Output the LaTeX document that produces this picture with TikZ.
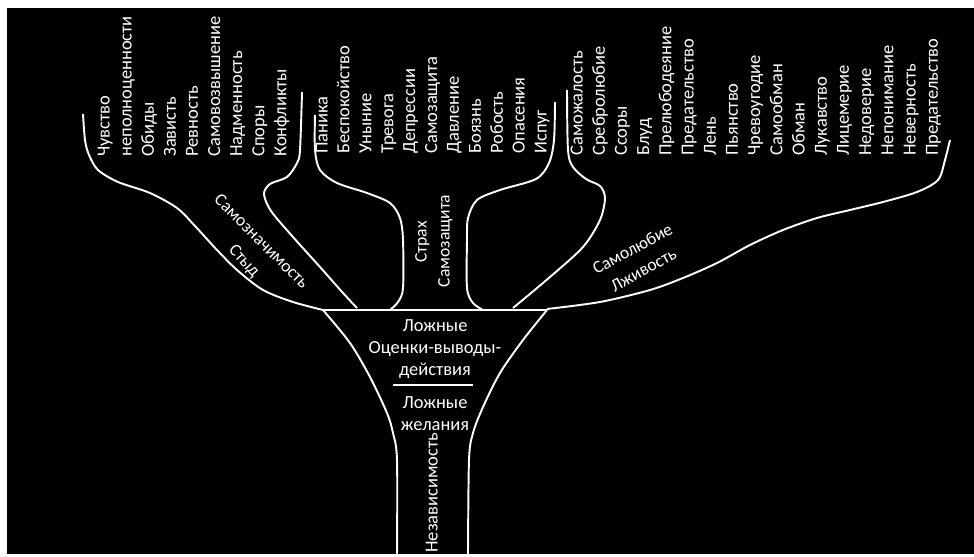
\documentclass[tikz,border=0pt]{standalone}
\usepackage{fontspec}
\setmainfont{Carlito}
\usetikzlibrary{positioning}
\tikzset{branch/.style={draw=white, line width=1.1pt},
        word/.style={white, rotate=90, anchor=west, inner sep=0pt,
        text height=0.66em, text depth=0.14em,
        font=\fontsize{10.5}{12.6}\selectfont},
        tag/.style={white, inner sep=0pt, text height=0.66em, text depth=0.14em,
        font=\fontsize{10}{12}\selectfont},
        core/.style={white, align=center, inner sep=0pt,
        font=\fontsize{10.5}{12.6}\selectfont}}

\begin{document}
\begin{tikzpicture}[x=0.02cm,y=-0.02cm]
    \fill[white] (0,0) rectangle (974,554);
    \fill[black] (7,8) rectangle (974,554);

    % words on the branches
    \foreach \w [count=\i] in {Чувство,неполноценности,Обиды,Зависть,Ревность,
        Самовозвышение,Надменность,Споры,Конфликты}
        \node[word] (l\i) at ({105+22.1*(\i-1)},157) {\w};
    \foreach \w [count=\i] in {Паника,Беспокойство,Уныние,Тревога,Депрессии,
        Самозащита,Давление,Боязнь,Робость,Опасения,Испуг}
        \node[word] (m\i) at ({323+21.9*(\i-1)},154) {\w};
    \foreach \w [count=\i] in {Саможалость,Сребролюбие,Ссоры,Блуд,Прелюбодеяние,
        Предательство,Лень,Пьянство,Чревоугодие,Самообман,Обман,Лукавство,
        Лицемерие,Недоверие,Непонимание,Неверность,Предательство}
        \node[word] (r\i) at ({578+22.2*(\i-1)},156) {\w};

    % left branch
    \draw[branch] plot [smooth] coordinates {(83,114) (85,140) (89,155) (98,170)
        (118,182) (150,193) (177,208) (195,226) (217,250) (237,270) (263,290)
        (293,302) (323,310)};
    \draw[branch] plot [smooth] coordinates {(302,92) (300,150) (297,163)
        (287,177) (270,184) (264,194) (271,211) (293,237) (320,267) (343,293)
        (357,308)};

    % middle branch
    \draw[branch] plot [smooth] coordinates {(315,115) (315,150) (320,170)
        (337,183) (367,193) (390,203) (400,218) (403,240) (403,288) (398,302)
        (390,310)};
    \draw[branch] plot [smooth] coordinates {(555,102) (554,140) (549,163)
        (536,179) (500,190) (477,200) (468,218) (467,240) (467,288) (473,303)
        (483,310)};

    % right branch
    \draw[branch] plot [smooth] coordinates {(567,90) (568,150) (573,167)
        (586,179) (600,186) (605,198) (600,220) (583,247) (550,277) (513,308)};
    \draw[branch] plot [smooth] coordinates {(547,309) (600,302) (650,290)
        (683,278) (717,263) (750,245) (783,230) (817,218) (850,210) (883,202)
        (917,192) (938,180) (945,160) (950,140)};

    % trunk
    \draw[branch] (323,310) -- (547,310);
    \draw[branch] plot [smooth] coordinates {(323,310) (350,343) (370,377)
        (387,413) (393,433) (397,460) (397,556)};
    \draw[branch] plot [smooth] coordinates {(547,310) (523,340) (500,373)
        (483,407) (473,433) (469,460) (468,556)};
    \draw[branch] (393,385) -- (473,385);

    \node[tag, rotate=-45] (samozn) at (261,242) {Самозначимость};
    \node[tag, rotate=-48] (styd) at (244,261) {Стыд};
    \node[tag, rotate=90] (strah) at (422,242) {Страх};
    \node[tag, rotate=90] (zashch) at (445,241) {Самозащита};
    \node[tag, rotate=28.5] (samol) at (633,250) {Самолюбие};
    \node[tag, rotate=29] (lzhiv) at (644,271) {Лживость};

    \node[core] (ocenki) at (435,349) {Ложные\\Оценки-выводы-\\действия};
    \node[core] (zhel) at (435,414) {Ложные\\желания};
    \node[word] (nezav) at (433,553) {Независимость};
\end{tikzpicture}
\end{document}
